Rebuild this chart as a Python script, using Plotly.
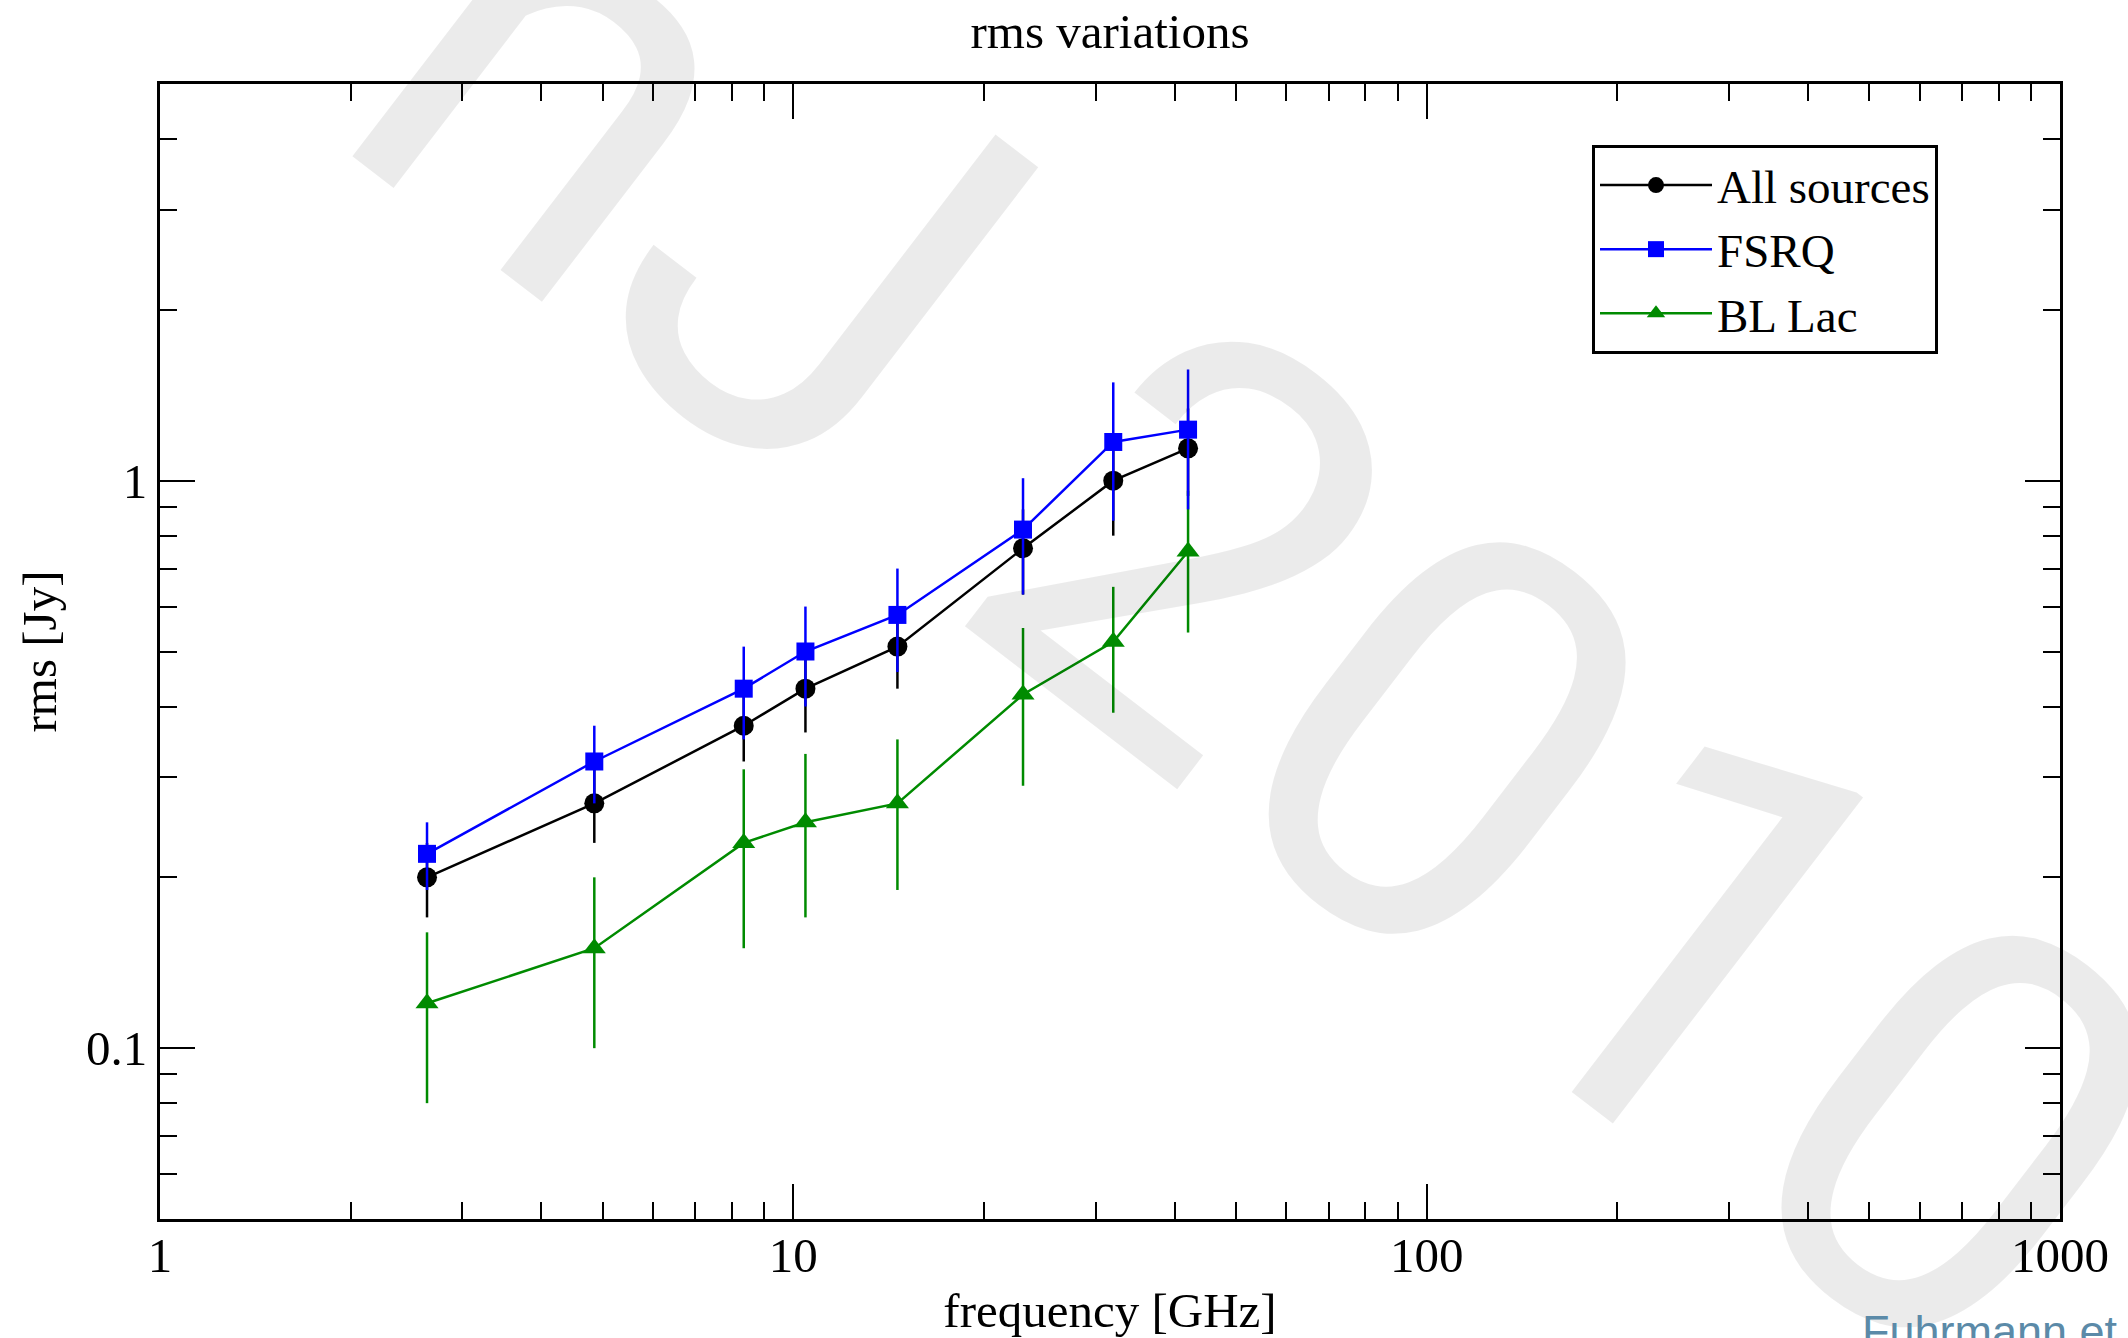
import math
import plotly.graph_objects as go

# ---------------- data ----------------
freq_ghz = [2.64, 4.85, 8.35, 10.45, 14.6, 23.05, 32.0, 42.0]

all_rms = [0.20, 0.27, 0.37, 0.43, 0.51, 0.76, 1.00, 1.14]
all_err = [0.03, 0.04, 0.05, 0.07, 0.08, 0.13, 0.20, 0.20]

fsrq_rms = [0.22, 0.32, 0.43, 0.50, 0.58, 0.82, 1.17, 1.23]
fsrq_err = [0.03, 0.05, 0.08, 0.10, 0.12, 0.19, 0.32, 0.34]

bllac_rms = [0.12, 0.15, 0.23, 0.25, 0.27, 0.42, 0.52, 0.75]
bllac_err = [0.04, 0.05, 0.08, 0.08, 0.08, 0.13, 0.13, 0.21]

x_major = [1, 10, 100, 1000]
x_major_text = ["1", "10", "100", "1000"]
x_minor = [m * d for d in (1, 10, 100) for m in range(2, 10)]
y_major = [0.1, 1]
y_major_text = ["0.1", "1"]
y_minor = [0.06, 0.07, 0.08, 0.09, 0.2, 0.3, 0.4, 0.5, 0.6, 0.7, 0.8, 0.9, 2, 3, 4]

# ---------------- figure ----------------
W, H = 2128, 1338
L, R, T, B = 160, 68, 84, 119
SERIF = "Liberation Serif, Times New Roman, serif"
FS = 49

fig = go.Figure()

def add_series(name, y, err, color, symbol, size, rank):
    fig.add_trace(go.Scatter(
        x=freq_ghz, y=y, name=name, mode="lines+markers",
        line=dict(color=color, width=2.5),
        marker=dict(color=color, symbol=symbol, size=size, line=dict(width=0)),
        error_y=dict(type="data", array=err, visible=True, color=color,
                     thickness=2.5, width=0),
        legendrank=rank,
    ))

add_series("All sources", all_rms, all_err, "#000000", "circle", 20, 1)
add_series("BL Lac", bllac_rms, bllac_err, "#008b00", "triangle-up", 20, 3)
add_series("FSRQ", fsrq_rms, fsrq_err, "#0000ff", "square", 18, 2)

axis_common = dict(
    showline=True, linewidth=3, linecolor="black", mirror="allticks",
    ticks="inside", ticklen=35, tickwidth=2, tickcolor="black",
    showgrid=False, zeroline=False,
    tickfont=dict(family=SERIF, size=FS, color="black"),
)

fig.update_xaxes(
    type="log", range=[0, 3],
    tickmode="array", tickvals=x_major, ticktext=x_major_text,
    ticklabelstandoff=-9,
    minor=dict(ticks="inside", ticklen=17, tickwidth=2, tickcolor="black",
               tickmode="array", tickvals=x_minor, showgrid=False),
    title=dict(text="frequency [GHz]", font=dict(family=SERIF, size=FS, color="black"),
               standoff=14),
    **axis_common,
)
fig.update_yaxes(
    type="log", range=[math.log10(0.05), math.log10(5)],
    tickmode="array", tickvals=y_major, ticktext=y_major_text,
    minor=dict(ticks="inside", ticklen=17, tickwidth=2, tickcolor="black",
               tickmode="array", tickvals=y_minor, showgrid=False),
    title=dict(text="rms [Jy]", font=dict(family=SERIF, size=FS, color="black"),
               standoff=14),
    **axis_common,
)

plot_w = W - L - R
plot_h = H - T - B

def px_to_paper_x(px):
    return (px - L) / plot_w

def px_to_paper_y(py):
    return (H - B - py) / plot_h

# watermark (semi-transparent so data stays visible through it)
fig.add_annotation(
    text="nJ 2010", xref="paper", yref="paper",
    x=px_to_paper_x(1262), y=px_to_paper_y(606),
    xanchor="center", yanchor="middle", showarrow=False,
    textangle=37.5,
    font=dict(family="Roboto, Liberation Sans, sans-serif", size=575,
              color="rgba(0,0,0,0.078)"),
)

# source credit at lower right (cut off by the page edge)
fig.add_annotation(
    text="Fuhrmann et al.", xref="paper", yref="paper",
    x=px_to_paper_x(1860), y=px_to_paper_y(1304),
    xanchor="left", yanchor="top", showarrow=False,
    font=dict(family="Liberation Sans, Arial, sans-serif", size=45, color="#5b8aa8"),
)

fig.update_layout(
    width=W, height=H,
    margin=dict(l=L, r=R, t=T, b=B, autoexpand=False),
    paper_bgcolor="white", plot_bgcolor="white",
    title=dict(text="rms variations", x=0.5, xref="paper", xanchor="center",
               y=1 - 31 / H, yanchor="middle",
               font=dict(family=SERIF, size=FS, color="black")),
    showlegend=True,
    legend=dict(
        x=px_to_paper_x(1592), y=px_to_paper_y(145),
        xanchor="left", yanchor="top",
        bordercolor="black", borderwidth=3, bgcolor="white",
        font=dict(family=SERIF, size=47, color="black"),
        itemwidth=112, tracegroupgap=0,
    ),
)

fig.write_html("out.html")
